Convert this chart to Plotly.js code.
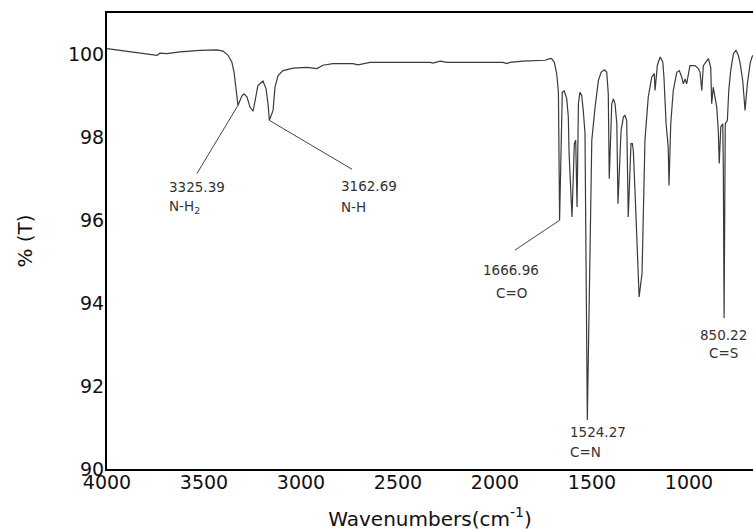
<!DOCTYPE html>
<html>
<head>
<meta charset="utf-8">
<script src="https://cdn.plot.ly/plotly-3.0.1.min.js"></script>
<style>
html,body{margin:0;padding:0;background:#fff;}
#chart{width:753px;height:531px;}
</style>
</head>
<body>
<div id="chart"></div>
<script>
// Wavenumber (cm-1) and transmittance (%T)
const wavenumber = [
4000,3866,3814,3742,3727,3691,3624,3588,3521,3433,3402,3376,3356,3345,3335,3325,
3304,3294,3278,3263,3247,3237,3222,3196,3180,3170,3163,3144,3134,3118,3093,3041,
2969,2917,2887,2835,2763,2732,2706,2644,2593,2335,2319,2283,2247,1959,1938,1923,
1856,1742,1716,1708,1694,1682,1673,1667,1653,1643,1630,1622,1618,1603,1591,1584,
1577,1570,1562,1553,1545,1536,1524,1512,1501,1484,1467,1453,1436,1424,1416,1411,
1398,1390,1381,1372,1366,1350,1338,1330,1321,1313,1299,1292,1287,1278,1257,1242,
1232,1227,1210,1192,1179,1175,1163,1149,1135,1129,1118,1107,1103,1094,1081,1063,
1050,1037,1029,1020,1012,995,969,952,943,934,926,900,888,883,875,857,849,844,836,
826,823,819,813,802,795,785,771,758,746,737,723,711,699,685,675,670
];
const transmittance = [
100.14,100.06,100.03,99.98,100.03,100.02,100.06,100.08,100.10,100.11,100.08,99.98,99.81,99.57,99.21,98.77,
99.01,99.05,98.97,98.73,98.63,98.89,99.25,99.36,99.17,98.81,98.41,98.65,99.21,99.49,99.61,99.67,
99.69,99.66,99.74,99.78,99.79,99.78,99.75,99.81,99.81,99.81,99.79,99.84,99.81,99.81,99.78,99.81,
99.84,99.86,99.90,99.90,99.81,99.54,99.09,96.00,99.09,99.12,98.93,98.49,97.61,96.08,97.85,97.93,
96.32,98.81,99.09,99.01,98.65,98.10,91.18,94.50,97.93,98.73,99.37,99.57,99.63,99.57,99.05,97.00,
98.81,98.93,98.81,98.33,96.40,98.17,98.49,98.53,98.41,96.08,97.85,97.85,97.69,96.68,94.15,94.72,
97.45,97.93,98.97,99.45,99.54,99.13,99.74,99.94,99.82,99.45,98.33,97.77,96.84,98.33,99.13,99.57,
99.61,99.45,99.29,99.41,99.29,99.73,99.73,99.66,99.57,99.13,99.73,99.90,99.69,98.81,99.21,98.73,98.17,97.37,98.25,
98.33,97.28,93.64,98.33,98.41,99.13,99.61,100.02,100.10,99.98,99.81,99.37,98.65,99.29,99.78,99.94,99.98
];

// Peak labels
const peakPositions = ['3325.39', '3162.69', '1666.96', '1524.27', '850.22'];
const peakBonds = ['N-H<sub>2</sub>', 'N-H', 'C=O', 'C=N', 'C=S'];
const peakMarks = [3325, 3163, 1667];   // peaks with a leader line
const peakMarkT = [98.77, 98.41, 96.00];

const xTicks = [4000, 3500, 3000, 2500, 2000, 1500, 1000];
const yTicks = [90, 92, 94, 96, 98, 100];

const labelFont = {family: 'DejaVu Sans, Arial, sans-serif', size: 13.5, color: '#333'};

const leaderEnds = [[3536, 97.13], [2737, 97.23], [1897, 95.28]];
const shapes = peakMarks.map((w, i) => ({
  type: 'line', xref: 'x', yref: 'y',
  x0: w, y0: peakMarkT[i], x1: leaderEnds[i][0], y1: leaderEnds[i][1],
  line: {color: '#444', width: 1}
}));

const labelPlace = [
  {x: 3691, y1: 96.80, y2: 96.31, xanchor: 'left'},
  {x: 2804, y1: 96.82, y2: 96.33, xanchor: 'left'},
  {x: 1917, y1: 94.80, y2: 94.24, xanchor: 'center'},
  {x: 1624, y1: 90.89, y2: 90.41, xanchor: 'left'},
  {x: 824,  y1: 93.23, y2: 92.80, xanchor: 'center'}
];
const annotations = [];
peakPositions.forEach((p, i) => {
  const pl = labelPlace[i];
  annotations.push({x: pl.x, y: pl.y1, xref: 'x', yref: 'y', text: p, showarrow: false,
    xanchor: pl.xanchor, yanchor: 'middle', font: labelFont});
  annotations.push({x: pl.x, y: pl.y2, xref: 'x', yref: 'y', text: peakBonds[i], showarrow: false,
    xanchor: pl.xanchor, yanchor: 'middle', font: labelFont});
});

const trace = {
  x: wavenumber, y: transmittance, type: 'scatter', mode: 'lines',
  line: {color: '#3a3a3a', width: 1.2}, hoverinfo: 'skip'
};

const tickFont = {family: 'DejaVu Sans, Arial, sans-serif', size: 19, color: '#111'};

const layout = {
  width: 753, height: 531,
  margin: {l: 107, r: 0, t: 13, b: 62},
  paper_bgcolor: '#fff', plot_bgcolor: '#fff',
  showlegend: false,
  xaxis: {
    range: [4000, 670], tickvals: xTicks, ticktext: xTicks.map(String),
    showgrid: false, zeroline: false, ticks: '',
    showline: true, linecolor: '#000', linewidth: 2, mirror: true,
    tickfont: tickFont, ticklabelstandoff: -5,
    title: {text: 'Wavenumbers(cm<sup>-1</sup>)', font: {family: 'DejaVu Sans, Arial, sans-serif', size: 20, color: '#111'}, standoff: 20}
  },
  yaxis: {
    range: [90, 101], tickvals: yTicks, ticktext: yTicks.map(String),
    showgrid: false, zeroline: false, ticks: '',
    showline: true, linecolor: '#000', linewidth: 2, mirror: false,
    tickfont: tickFont, ticklabelstandoff: -3,
    title: {text: '% (T)', font: {family: 'DejaVu Sans, Arial, sans-serif', size: 20, color: '#111'}, standoff: 30}
  },
  shapes: shapes,
  annotations: annotations
};

Plotly.newPlot('chart', [trace], layout, {staticPlot: true, displayModeBar: false});
</script>
</body>
</html>
